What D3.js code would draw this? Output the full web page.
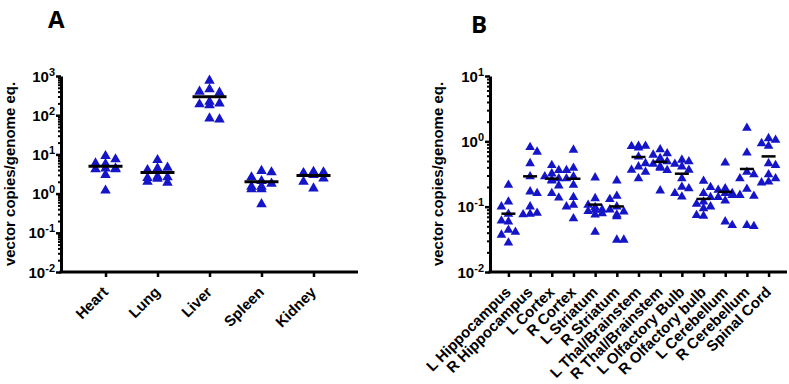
<!DOCTYPE html>
<html>
<head>
<meta charset="utf-8">
<script src="https://cdn.jsdelivr.net/npm/d3@7"></script>
<style>
  body { margin: 0; background: #fff; }
  text { font-family: "Liberation Sans", Arial, sans-serif; font-weight: bold; fill: #000; }
</style>
</head>
<body>
<svg id="chart" width="789" height="384"></svg>
<script>
// Panel A: organs
var organCats = ["Heart", "Lung", "Liver", "Spleen", "Kidney"];
var heartVals = [9.1, 7.5, 5.9, 5.7, 4.4, 4.4, 4.2, 4.2, 3.0, 1.2];
var lungVals = [7.2, 4.6, 4.4, 4.0, 2.7, 2.6, 2.5, 2.4, 2.0, 1.9];
var liverVals = [760, 460, 400, 375, 220, 200, 190, 180, 83, 78];
var spleenVals = [3.8, 3.5, 2.6, 2.1, 1.8, 1.5, 1.5, 1.3, 1.3, 0.54];
var kidneyVals = [3.6, 3.5, 3.3, 3.3, 3.3, 3.2, 3.0, 2.45, 2.0, 1.36];
var organVals = [heartVals, lungVals, liverVals, spleenVals, kidneyVals];
var organTicks = [1e-2, 1e-1, 1e0, 1e1, 1e2, 1e3];

// Panel B: brain regions
var brainCats = ["L Hippocampus", "R Hippocampus", "L Cortex", "R Cortex", "L Striatum", "R Striatum",
  "L Thal/Brainstem", "R Thal/Brainstem", "L Olfactory Bulb", "R Olfactory bulb", "L Cerebellum",
  "R Cerebellum", "Spinal Cord"];
var brainVals = [
  [0.215, 0.119, 0.10, 0.077, 0.061, 0.059, 0.044, 0.041, 0.037, 0.028],
  [0.81, 0.69, 0.46, 0.29, 0.17, 0.16, 0.10, 0.08, 0.077, 0.076],
  [0.43, 0.36, 0.32, 0.29, 0.27, 0.256, 0.25, 0.21, 0.16, 0.137],
  [0.74, 0.39, 0.36, 0.29, 0.27, 0.215, 0.139, 0.106, 0.10, 0.066],
  [0.278, 0.134, 0.106, 0.098, 0.09, 0.089, 0.085, 0.079, 0.075, 0.041],
  [0.25, 0.146, 0.13, 0.10, 0.09, 0.084, 0.075, 0.071, 0.031, 0.031],
  [0.85, 0.85, 0.84, 0.80, 0.58, 0.46, 0.41, 0.364, 0.34, 0.27],
  [0.75, 0.65, 0.62, 0.55, 0.49, 0.45, 0.41, 0.39, 0.36, 0.176],
  [0.52, 0.49, 0.45, 0.41, 0.364, 0.27, 0.20, 0.19, 0.16, 0.142],
  [0.247, 0.198, 0.16, 0.139, 0.119, 0.11, 0.10, 0.094, 0.074, 0.072],
  [0.47, 0.19, 0.18, 0.16, 0.16, 0.15, 0.139, 0.123, 0.059, 0.052],
  [1.6, 0.67, 0.34, 0.31, 0.27, 0.186, 0.15, 0.146, 0.052, 0.05],
  [1.11, 1.05, 0.93, 0.85, 0.46, 0.43, 0.31, 0.27, 0.24, 0.233]
];
var brainTicks = [1e-2, 1e-1, 1e0, 1e1];

var blue = "#1515c8";
var svg = d3.select("#chart");

// spread points sideways so triangles don't pile up (like a Prism scatter)
function swarm(vals, y, step, w, h, maxK) {
  var placed = [];
  vals.slice().sort((a, b) => b - a).forEach(function(v, i) {
    var py = y(v), best = null, bestHits = 1e9;
    for (var k = 0; k <= maxK && bestHits > 0; k++) {
      var signs = k === 0 ? [0] : (i % 2 ? [1, -1] : [-1, 1]);
      signs.forEach(function(s) {
        if (bestHits === 0) return;
        var dx = s * k * step;
        var hits = placed.filter(p => Math.abs(p.dx - dx) < w && Math.abs(p.y - py) < h).length;
        if (hits < bestHits) { bestHits = hits; best = dx; }
      });
    }
    placed.push({ v: v, y: py, dx: best });
  });
  return placed;
}

function panel(opt) {
  var x = d3.scalePoint().domain(opt.cats).range([opt.x0, opt.x1]).padding(opt.pad);
  var y = d3.scaleLog().domain(opt.domain).range([272, 76]);
  var g = svg.append("g");

  // minor ticks
  var minors = [];
  for (var e = Math.log10(opt.domain[0]); e < Math.log10(opt.domain[1]); e++) {
    for (var m = 2; m <= 9; m++) minors.push(m * Math.pow(10, e));
  }
  g.append("g")
    .attr("transform", "translate(" + opt.x0 + ",0)")
    .call(d3.axisLeft(y).tickValues(minors).tickSize(3).tickSizeOuter(0).tickFormat(""))
    .call(a => a.select(".domain").remove())
    .call(a => a.selectAll("line").attr("stroke-width", 2));

  // major ticks with 10^n labels
  var yAxis = g.append("g")
    .attr("transform", "translate(" + opt.x0 + ",0)")
    .call(d3.axisLeft(y).tickValues(opt.ticks).tickSize(5).tickSizeOuter(0).tickFormat(""));
  yAxis.select(".domain").attr("stroke-width", 3);
  yAxis.selectAll("line").attr("stroke-width", 2.5);
  yAxis.selectAll(".tick").append("text")
    .attr("x", -6).attr("y", 5)
    .attr("text-anchor", "end")
    .style("font-size", "15px")
    .each(function(d) {
      var t = d3.select(this);
      t.append("tspan").text("10");
      t.append("tspan").attr("dy", -6).style("font-size", "11px").text(Math.round(Math.log10(d)));
    });

  // x axis
  var xAxis = g.append("g")
    .attr("transform", "translate(0,272)")
    .call(d3.axisBottom(x).tickSize(5).tickSizeOuter(0).tickFormat(""));
  xAxis.select(".domain").attr("stroke-width", 3).attr("d", "M" + (opt.x0 - 1.5) + ",0H" + opt.x1);
  xAxis.selectAll("line").attr("stroke-width", 2.5);
  xAxis.selectAll(".tick").append("text")
    .attr("text-anchor", "end")
    .attr("transform", "translate(3,21) rotate(-45)")
    .style("font-size", "15px")
    .text(d => d);

  // axis title
  g.append("text")
    .attr("transform", "translate(" + opt.titleX + ",174) rotate(-90)")
    .attr("text-anchor", "middle")
    .style("font-size", "15px")
    .text("vector copies/genome eq.");

  // panel letter
  g.append("text")
    .attr("x", opt.letterX).attr("y", opt.letterY)
    .style("font-family", "'Open Sans', sans-serif")
    .style("font-size", "24px")
    .style("font-weight", "bold")
    .text(opt.letter);

  var tri = d3.symbol().type(d3.symbolTriangle).size(opt.symSize);
  opt.vals.forEach(function(vals, i) {
    var cx = x(opt.cats[i]);
    var pts = swarm(vals, y, opt.step, opt.w, opt.h, opt.maxK);
    g.append("g").selectAll("path")
      .data(pts)
      .enter().append("path")
      .attr("d", tri)
      .attr("fill", blue)
      .attr("transform", d => "translate(" + (cx + d.dx) + "," + d.y + ")");
    var my = y(d3.mean(vals));
    g.append("line")
      .attr("x1", cx - opt.meanHalf).attr("x2", cx + opt.meanHalf)
      .attr("y1", my).attr("y2", my)
      .attr("stroke", "#000")
      .attr("stroke-width", opt.meanW);
  });
}

panel({
  cats: organCats, vals: organVals, ticks: organTicks, domain: [1e-2, 1e3],
  x0: 61, x1: 358, pad: 0.856, titleX: 15, letter: "A", letterX: 48, letterY: 28,
  symSize: 48, step: 5, w: 9, h: 8, maxK: 3, meanHalf: 17, meanW: 3
});

panel({
  cats: brainCats, vals: brainVals, ticks: brainTicks, domain: [1e-2, 1e1],
  x0: 490, x1: 787, pad: 0.85, titleX: 443, letter: "B", letterX: 471, letterY: 33,
  symSize: 40, step: 3.5, w: 7, h: 7, maxK: 3, meanHalf: 7, meanW: 2.5
});
</script>
</body>
</html>
